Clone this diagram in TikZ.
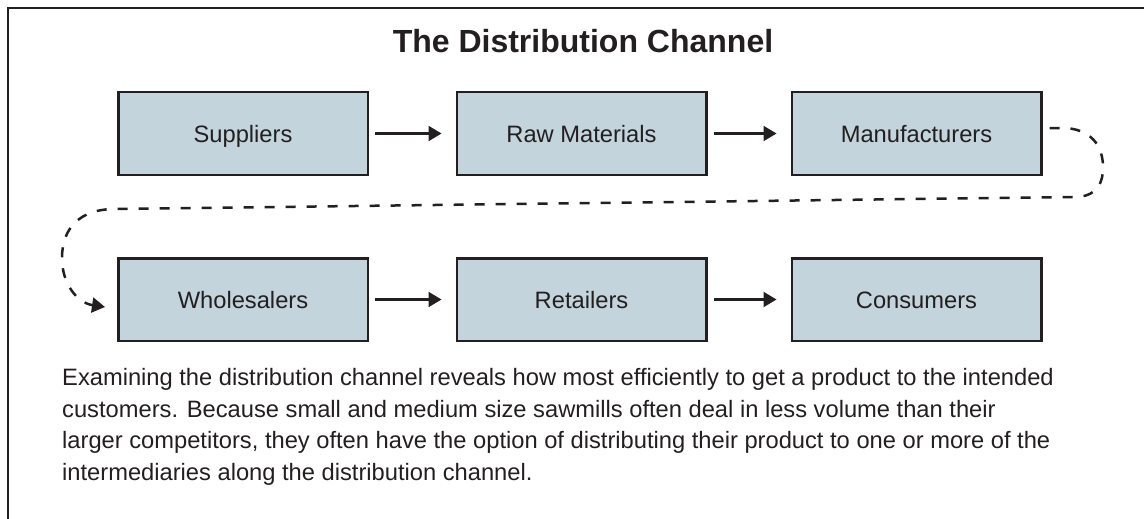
\documentclass[tikz,border=0pt]{standalone}
\usepackage{fontspec}
\setmainfont{Liberation Sans}
\usetikzlibrary{arrows.meta}
\definecolor{ink}{HTML}{231F20}
\definecolor{boxfill}{HTML}{C3D4DC}
\begin{document}
\begin{tikzpicture}[x=1pt,y=-1pt,
  stage/.style={draw=ink, fill=boxfill, line width=2.5pt, minimum width=249.5pt, minimum height=82.5pt, inner sep=0pt, text=ink, font=\fontsize{23.7}{28}\selectfont, text height=17pt, text depth=0pt},
  flow/.style={draw=ink, line width=2.2pt, -{Triangle[length=13pt,width=15pt]}},
  loopflow/.style={draw=ink, line width=2.5pt, dash pattern=on 10pt off 11pt, -{Triangle[length=13pt,width=15pt]}},
  frameline/.style={draw=ink, line width=2pt}]
\useasboundingbox (0,0) rectangle (1144,519);
\draw[frameline] (8,519) -- (8,8.5) -- (1144,8.5);
\node[anchor=base, text=ink, font=\fontsize{32}{36}\selectfont\bfseries] (title) at (583,53) {The Distribution Channel};
\node[stage] (sup) at (243,133.5) {Suppliers};
\node[stage] (raw) at (581.5,133.5) {Raw Materials};
\node[stage] (man) at (916.5,133.5) {Manufacturers};
\node[stage] (who) at (243,299.5) {Wholesalers};
\node[stage] (ret) at (581.5,299.5) {Retailers};
\node[stage] (con) at (916.5,299.5) {Consumers};
\draw[flow] ([xshift=6pt]sup.east) -- ([xshift=-14pt]raw.west);
\draw[flow] ([xshift=6pt]raw.east) -- ([xshift=-14pt]man.west);
\draw[flow] ([xshift=6pt]who.east) -- ([xshift=-14pt]ret.west);
\draw[flow] ([xshift=6pt]ret.east) -- ([xshift=-14pt]con.west);
\draw[loopflow] ([xshift=7pt,yshift=5.5pt]man.east) -- (1062,128)
  .. controls (1090,128) and (1104,145) .. (1103,170)
  .. controls (1102,190) and (1090,197) .. (1075,197)
  -- (115,209)
  .. controls (80,209) and (62,228) .. (62,258)
  .. controls (62,285) and (78,303) .. ([xshift=-12pt,yshift=-7.5pt]who.west);
\node[anchor=north west, inner sep=0pt, align=left, text=ink, font=\fontsize{23.7}{31.7}\selectfont] (para) at (62,368) {Examining the distribution channel reveals how most efficiently to get a product to the intended\\customers. Because small and medium size sawmills often deal in less volume than their\\larger competitors, they often have the option of distributing their product to one or more of the\\intermediaries along the distribution channel.};
\end{tikzpicture}
\end{document}
